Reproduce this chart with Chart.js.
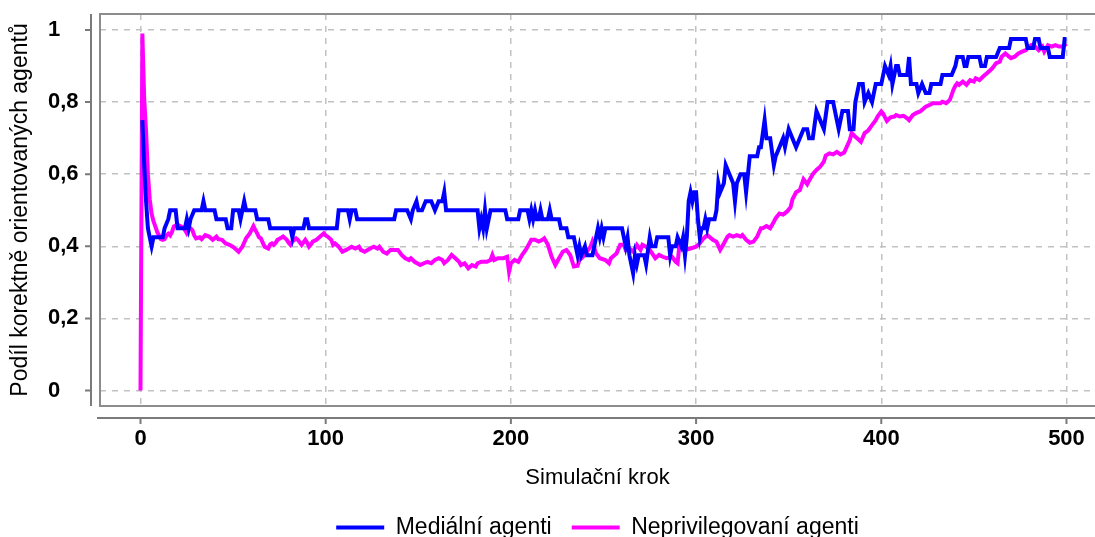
<!DOCTYPE html>
<html>
<head>
<meta charset="utf-8">
<script src="https://cdn.jsdelivr.net/npm/chart.js@4.4.1/dist/chart.umd.min.js"></script>
<style>
  html, body { margin: 0; padding: 0; background: #fff; }
  #wrap { width: 1095px; height: 537px; }
</style>
</head>
<body>
<div id="wrap"><canvas id="chart"></canvas></div>
<script>
// tick labels
const xTicks = [0, 100, 200, 300, 400, 500];
const yTicks = [0, 0.2, 0.4, 0.6, 0.8, 1];

// Mediální agenti (share of correctly oriented agents)
const mediaSteps = [
  1, 2, 3, 4, 5, 6, 7, 12, 13, 15,
  16, 19, 20, 24, 25, 26, 27, 29, 33, 34,
  35, 40, 41, 46, 47, 49, 50, 53, 54, 55,
  56, 57, 62, 63, 69, 70, 81, 82, 83, 88,
  89, 90, 91, 106, 107, 112, 113, 114, 116, 117,
  137, 138, 144, 146, 147, 149, 150, 152, 154, 157,
  159, 161, 163, 164, 165, 182, 183, 184, 185, 186,
  187, 189, 197, 198, 204, 205, 209, 210, 211, 212,
  213, 214, 215, 216, 217, 220, 221, 222, 226, 227,
  230, 231, 234, 235, 236, 237, 238, 240, 241, 244,
  245, 247, 248, 249, 250, 251, 260, 261, 262, 263,
  264, 266, 267, 268, 269, 272, 273, 275, 276, 278,
  279, 285, 286, 287, 289, 290, 292, 293, 294, 295,
  296, 297, 298, 299, 300, 301, 302, 303, 304, 305,
  306, 307, 310, 311, 312, 313, 315, 316, 318, 320,
  321, 322, 324, 326, 327, 328, 329, 333, 334, 335,
  337, 338, 340, 342, 343, 345, 347, 348, 350, 352,
  354, 356, 358, 360, 361, 363, 365, 367, 369, 371,
  374, 375, 377, 379, 382, 383, 385, 386, 388, 390,
  391, 393, 395, 396, 397, 400, 401, 402, 404, 405,
  406, 407, 408, 409, 410, 414, 415, 416, 419, 420,
  422, 424, 426, 427, 432, 433, 438, 440, 441, 444,
  445, 446, 447, 453, 454, 456, 457, 462, 464, 469,
  470, 478, 479, 482, 483, 485, 486, 490, 491, 498,
  499, 500
];
const mediaShare = [
  .75, .625, .525, .45, .425, .4, .425, .425, .45, .475,
  .5, .5, .45, .45, .475, .45, .475, .5, .5, .525,
  .5, .5, .475, .475, .45, .45, .5, .5, .475, .5,
  .525, .5, .5, .475, .475, .45, .45, .425, .45, .45,
  .475, .475, .45, .45, .5, .5, .475, .5, .5, .475,
  .475, .5, .5, .475, .5, .525, .5, .5, .525, .525,
  .5, .525, .525, .55, .5, .5, .45, .475, .45, .5,
  .45, .5, .5, .475, .475, .5, .5, .475, .5, .475,
  .5, .475, .475, .5, .475, .475, .5, .475, .475, .45,
  .45, .425, .425, .4, .375, .4, .375, .4, .375, .375,
  .4, .45, .425, .45, .425, .45, .45, .425, .4, .425,
  .375, .325, .375, .35, .375, .375, .35, .425, .4, .4,
  .425, .425, .375, .4, .4, .425, .4, .425, .375, .425,
  .525, .55, .525, .55, .55, .475, .425, .45, .45, .475,
  .45, .475, .475, .5, .575, .55, .575, .625, .6, .575,
  .525, .575, .6, .6, .55, .6, .65, .65, .675, .675,
  .75, .7, .7, .625, .65, .675, .7, .675, .725, .7,
  .675, .7, .725, .725, .7, .7, .775, .75, .725, .8,
  .8, .775, .725, .775, .775, .725, .725, .8, .85, .85,
  .8, .825, .8, .825, .85, .85, .875, .9, .875, .9,
  .85, .875, .9, .9, .875, .875, .925, .85, .85, .825,
  .85, .825, .825, .85, .85, .875, .875, .9, .925, .925,
  .9, .9, .925, .925, .9, .9, .925, .925, .95, .95,
  .975, .975, .95, .95, .975, .975, .95, .95, .925, .925,
  .975, .975
];

// Neprivilegovaní agenti
const neprivSteps = [
  0, 1, 2, 3, 4, 5, 6, 7, 8, 9,
  10, 11, 12, 13, 14, 15, 16, 17, 18, 20,
  22, 23, 24, 25, 26, 27, 28, 29, 30, 32,
  33, 35, 37, 39, 41, 42, 44, 46, 48, 50,
  51, 53, 54, 55, 56, 57, 59, 61, 62, 63,
  64, 65, 66, 67, 69, 70, 71, 72, 73, 74,
  76, 77, 79, 80, 81, 82, 84, 85, 87, 89,
  90, 91, 92, 93, 95, 97, 99, 100, 101, 103,
  104, 105, 107, 109, 111, 114, 116, 118, 119, 121,
  124, 126, 128, 129, 131, 133, 135, 139, 141, 143,
  145, 146, 148, 151, 153, 155, 157, 159, 161, 163,
  164, 166, 168, 170, 172, 173, 175, 177, 179, 181,
  182, 184, 187, 189, 190, 191, 193, 196, 198, 199,
  200, 202, 204, 206, 208, 209, 211, 213, 215, 217,
  218, 220, 222, 224, 226, 228, 230, 232, 234, 236,
  237, 239, 241, 243, 244, 246, 248, 251, 253, 254,
  257, 259, 261, 262, 264, 266, 268, 270, 271, 273,
  275, 278, 280, 282, 284, 287, 289, 290, 291, 292,
  294, 297, 300, 302, 304, 306, 307, 309, 311, 313,
  315, 317, 318, 320, 322, 324, 325, 327, 329, 331,
  333, 335, 336, 338, 340, 342, 343, 345, 347, 349,
  351, 352, 354, 356, 358, 360, 361, 363, 365, 367,
  369, 370, 372, 374, 376, 378, 380, 381, 383, 384,
  386, 388, 389, 391, 393, 395, 397, 398, 400, 401,
  403, 405, 407, 408, 410, 412, 414, 415, 417, 419,
  421, 423, 424, 426, 428, 430, 432, 433, 435, 437,
  438, 439, 440, 441, 442, 444, 446, 448, 450, 451,
  453, 455, 457, 459, 460, 462, 464, 465, 467, 469,
  470, 472, 474, 476, 478, 479, 481, 483, 485, 487,
  488, 490, 492, 494, 496, 498, 500
];
const neprivShare = [
  0, .99, .81, .72, .6, .53, .49, .47, .455, .44,
  .43, .42, .418, .42, .43, .435, .43, .44, .455, .46,
  .455, .452, .445, .436, .445, .45, .445, .43, .422, .425,
  .42, .431, .427, .418, .427, .42, .418, .408, .404, .398,
  .394, .385, .392, .399, .41, .422, .436, .456, .445, .436,
  .425, .422, .41, .399, .394, .405, .408, .404, .41, .418,
  .424, .427, .418, .41, .404, .413, .422, .418, .404, .418,
  .41, .399, .405, .413, .418, .427, .436, .43, .427, .418,
  .404, .408, .399, .385, .39, .399, .394, .399, .39, .385,
  .394, .399, .394, .399, .385, .38, .39, .39, .376, .367,
  .362, .367, .357, .348, .353, .357, .353, .362, .367, .362,
  .353, .362, .376, .367, .357, .348, .353, .339, .348, .344,
  .353, .357, .357, .362, .376, .362, .367, .367, .371, .33,
  .353, .362, .357, .376, .39, .399, .418, .418, .413, .418,
  .422, .404, .371, .348, .367, .385, .39, .376, .344, .346,
  .362, .371, .385, .399, .413, .38, .367, .362, .353, .367,
  .38, .404, .404, .39, .394, .385, .404, .39, .404, .399,
  .39, .367, .376, .371, .367, .371, .357, .353, .404, .394,
  .39, .394, .399, .408, .422, .431, .427, .418, .413, .39,
  .408, .427, .431, .427, .431, .427, .431, .418, .41, .413,
  .427, .45, .45, .456, .45, .468, .478, .491, .488, .496,
  .508, .53, .55, .556, .586, .572, .582, .6, .612, .621,
  .635, .652, .658, .655, .662, .655, .66, .672, .695, .714,
  .704, .695, .69, .714, .722, .736, .75, .76, .774, .768,
  .748, .758, .76, .764, .76, .762, .755, .75, .764, .77,
  .774, .783, .787, .792, .797, .797, .797, .801, .797, .806,
  .82, .835, .845, .852, .848, .857, .848, .861, .857, .866,
  .861, .871, .88, .889, .894, .908, .912, .926, .935, .926,
  .922, .926, .935, .94, .944, .949, .958, .954, .944, .954,
  .94, .958, .954, .958, .954, .954, .962
];

const toPoints = (steps, vals) => steps.map((s, i) => ({ x: s, y: vals[i] }));
const comma = v => String(v).replace('.', ',');

Chart.defaults.font.family = "'Liberation Sans', Arial, sans-serif";
Chart.defaults.color = '#000';

// Stata-like frame plus axes offset from the plot region
const frameAxes = {
    id: 'frameAxes',
    afterDraw(chart) {
        const { ctx, chartArea: a, scales: { x, y } } = chart;
        ctx.save();
        ctx.lineWidth = 2;
        ctx.strokeStyle = '#8c8c8c';
        ctx.beginPath();
        ctx.moveTo(chart.width, a.top);
        ctx.lineTo(a.left, a.top);
        ctx.lineTo(a.left, a.bottom);
        ctx.lineTo(chart.width, a.bottom);
        ctx.stroke();

        ctx.strokeStyle = '#7a7a7a';
        ctx.beginPath();
        const ax = a.left - 9;
        ctx.moveTo(ax, a.top);
        ctx.lineTo(ax, a.bottom);
        y.ticks.forEach(t => {
            const py = y.getPixelForValue(t.value);
            ctx.moveTo(ax - 6, py);
            ctx.lineTo(ax, py);
        });
        const ay = a.bottom + 12;
        ctx.moveTo(a.left - 3, ay);
        ctx.lineTo(chart.width, ay);
        x.ticks.forEach(t => {
            const px = x.getPixelForValue(t.value);
            ctx.moveTo(px, ay);
            ctx.lineTo(px, ay + 6);
        });
        ctx.stroke();
        ctx.restore();
    }
};

new Chart(document.getElementById('chart'), {
    type: 'line',
    data: {
        datasets: [{
            label: 'Mediální agenti',
            data: toPoints(mediaSteps, mediaShare),
            borderColor: '#0000ff',
            backgroundColor: '#0000ff',
            borderWidth: 4,
            pointRadius: 0,
            tension: 0
        }, {
            label: 'Neprivilegovaní agenti',
            data: toPoints(neprivSteps, neprivShare),
            borderColor: '#ff00ff',
            backgroundColor: '#ff00ff',
            borderWidth: 4,
            pointRadius: 0,
            tension: 0
        }]
    },
    options: {
        responsive: true,
        maintainAspectRatio: false,
        animation: false,
        devicePixelRatio: 1,
        events: [],
        layout: { padding: { top: 14, right: 0, bottom: -12, left: 48 } },
        scales: {
            x: {
                type: 'linear',
                min: -21.87,
                max: 515.4,
                afterBuildTicks: s => { s.ticks = xTicks.map(v => ({ value: v })); },
                afterFit: s => { s.height = 90; s.paddingLeft = 0; s.paddingRight = 0; },
                ticks: { font: { size: 22, weight: 'bold' }, padding: 20, maxRotation: 0, callback: v => comma(v) },
                grid: { color: '#c2c2c2', lineWidth: 1.5, drawTicks: false },
                border: { display: false, dash: [6, 6] },
                title: { display: true, text: 'Simulační krok', font: { size: 22 }, padding: { top: 0, bottom: 5 } }
            },
            y: {
                min: -0.043,
                max: 1.0444,
                afterBuildTicks: s => { s.ticks = yTicks.map(v => ({ value: v })); },
                afterFit: s => { s.width = 52; s.paddingTop = 0; s.paddingBottom = 0; },
                ticks: { font: { size: 22, weight: 'bold' }, padding: 21, crossAlign: 'far', callback: v => comma(v) },
                grid: { color: '#c2c2c2', lineWidth: 1.5, drawTicks: false },
                border: { display: false, dash: [6, 6] },
                title: { display: true, text: 'Podíl korektně orientovaných agentů', font: { size: 23 }, padding: { top: -41, bottom: 0 } }
            }
        },
        plugins: {
            legend: {
                position: 'bottom',
                fullSize: false,
                labels: {
                    font: { size: 23 },
                    boxWidth: 48,
                    boxHeight: 4,
                    padding: 20,
                    generateLabels(chart) {
                        const items = Chart.defaults.plugins.legend.labels.generateLabels(chart);
                        items.forEach(it => { it.lineWidth = 0; it.fillStyle = it.strokeStyle; });
                        return items;
                    }
                }
            },
            tooltip: { enabled: false }
        }
    },
    plugins: [frameAxes]
});
</script>
</body>
</html>
